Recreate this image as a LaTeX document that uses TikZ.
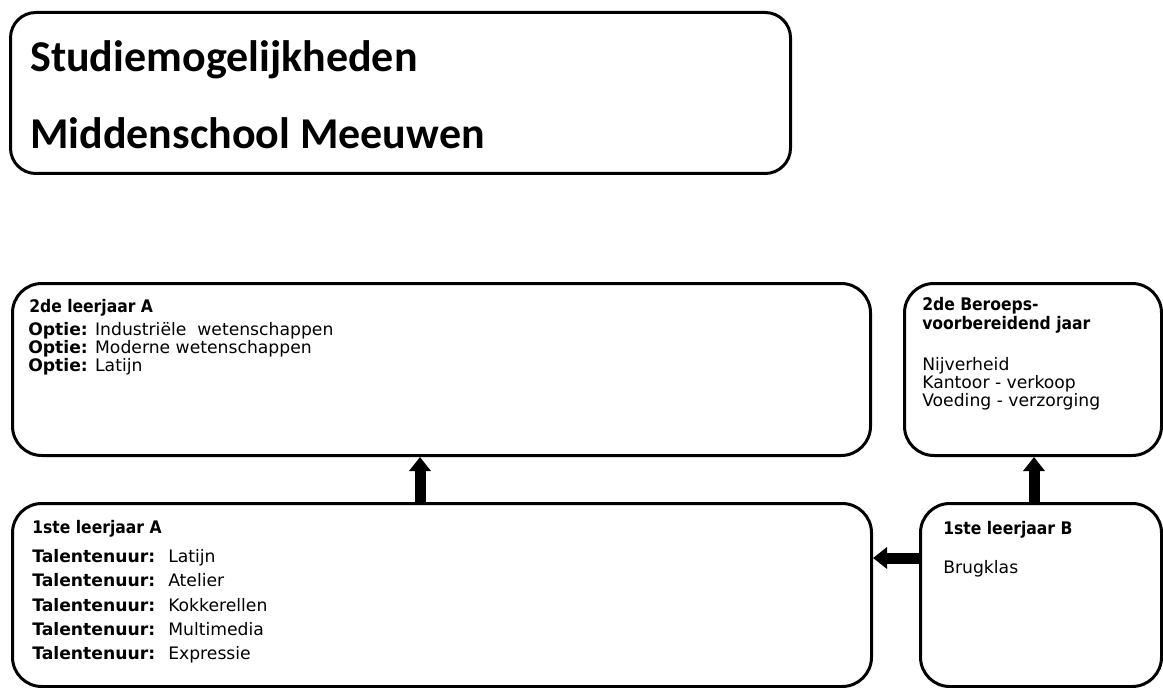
\documentclass[tikz,border=0pt]{standalone}
\usepackage{fontspec}
\setmainfont{DejaVu Sans}
\newfontfamily\titlefont{Carlito}
\newfontfamily\headfont{DejaVu Sans Condensed}
\usetikzlibrary{arrows.meta}
\tikzset{
  box/.style={draw, line width=2.25pt, rounded corners=22pt, inner sep=0pt, anchor=north west},
  ttl/.style={font=\titlefont\bfseries\fontsize{33}{38}\selectfont, anchor=base west, inner sep=0pt},
  hd/.style={font=\headfont\bfseries\fontsize{13}{15}\selectfont, anchor=base west, inner sep=0pt},
  txt/.style={font=\fontsize{12.9}{15}\selectfont, anchor=base west, inner sep=0pt},
  bigarrow/.style={line width=8.25pt, -{Triangle[width=15.75pt, length=10.5pt]}}
}
\begin{document}
\begin{tikzpicture}[x=0.75pt, y=-0.75pt]
\useasboundingbox (0,0) rectangle (1163,688);
% boxes
\node[box, minimum width=585pt, minimum height=120.75pt, rounded corners=19pt] (title) at (9,11) {};
\node[box, minimum width=643.5pt, minimum height=129pt] (b2a) at (11,282) {};
\node[box, minimum width=192.75pt, minimum height=129pt] (b2b) at (903,282) {};
\node[box, minimum width=644.25pt, minimum height=137.25pt] (b1a) at (11,502) {};
\node[box, minimum width=180.75pt, minimum height=137.25pt] (b1b) at (919,502) {};
% title
\node[ttl] (t1) at (30,72) {Studiemogelijkheden};
\node[ttl] (t2) at (30,149) {Middenschool Meeuwen};
% 2de leerjaar A
\node[hd] (h2a) at (29,312) {2de leerjaar A};
\node[txt] (o1) at (28,335) {\textbf{Optie:} Industriële\ \ wetenschappen};
\node[txt] (o2) at (28,353) {\textbf{Optie:} Moderne wetenschappen};
\node[txt] (o3) at (28,371) {\textbf{Optie:} Latijn};
% 2de Beroeps
\node[hd] (h2b1) at (922,310) {2de Beroeps-};
\node[hd] (h2b2) at (922,329) {voorbereidend jaar};
\node[txt] (n1) at (922,370) {Nijverheid};
\node[txt] (n2) at (922,388) {Kantoor - verkoop};
\node[txt] (n3) at (922,406) {Voeding - verzorging};
% 1ste leerjaar A
\node[hd] (h1a) at (32,533) {1ste leerjaar A};
\foreach \v/\yy [count=\i] in {Latijn/562, Atelier/586, Kokkerellen/611, Multimedia/635, Expressie/659}{
  \node[txt, font=\bfseries\fontsize{12.9}{15}\selectfont] (tk\i) at (32,\yy) {Talentenuur:};
  \node[txt] (tv\i) at (168,\yy) {\v};
}
% 1ste leerjaar B
\node[hd] (h1b) at (943,534) {1ste leerjaar B};
\node[txt] (bk) at (943,573) {Brugklas};
% arrows
\coordinate (ax1) at (420,0);
\coordinate (ax2) at (1034,0);
\coordinate (ay) at (0,558);
\draw[bigarrow] (b1a.north -| ax1) -- (b2a.south -| ax1);
\draw[bigarrow] (b1b.north -| ax2) -- (b2b.south -| ax2);
\draw[bigarrow] (b1b.west |- ay) -- (b1a.east |- ay);
\end{tikzpicture}
\end{document}
